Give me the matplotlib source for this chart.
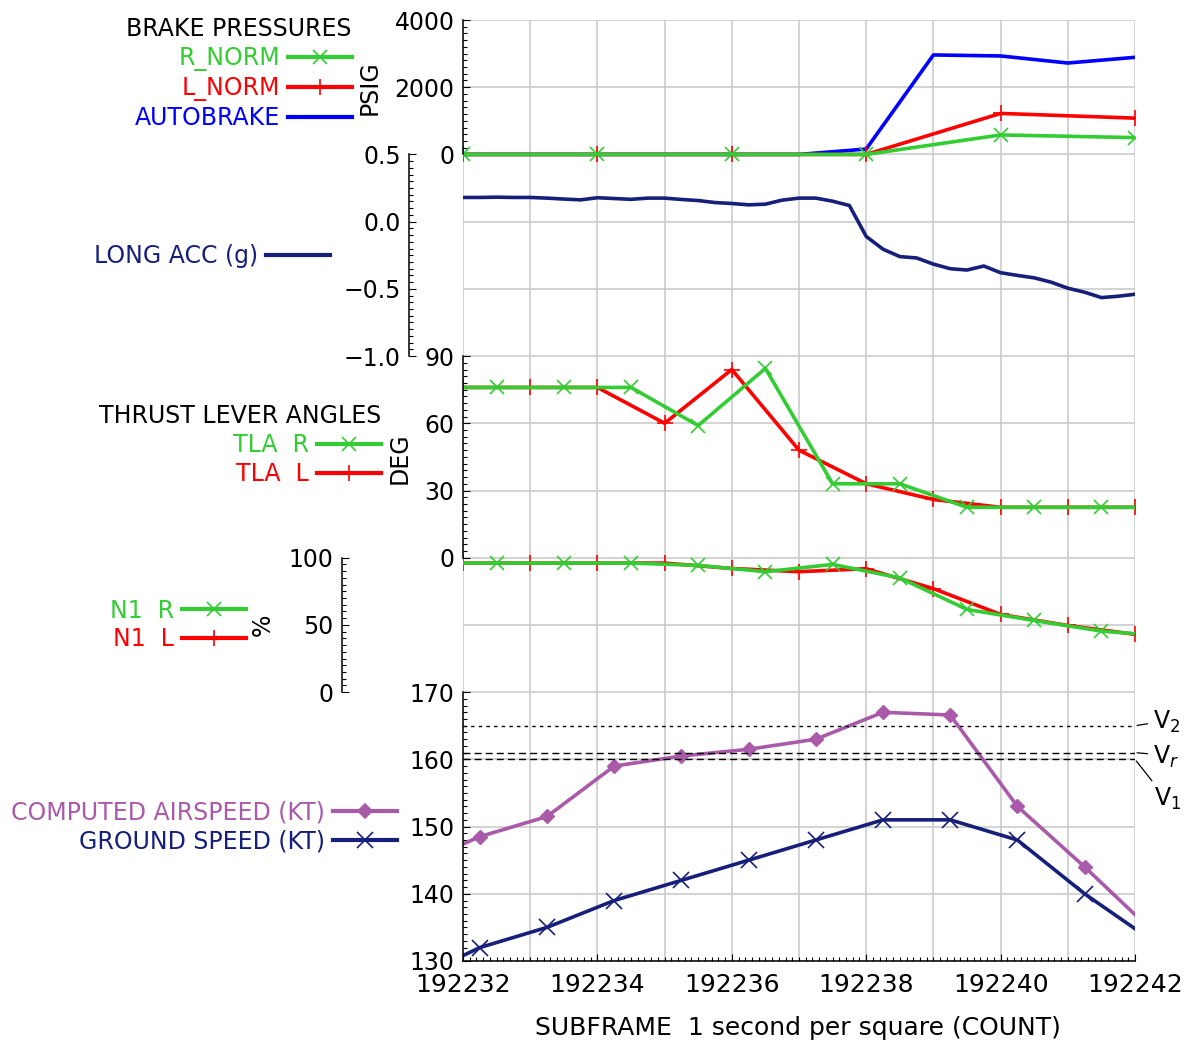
import numpy as np
import matplotlib
matplotlib.use("Agg")
import matplotlib.pyplot as plt
from matplotlib.lines import Line2D
from matplotlib.ticker import FixedLocator, FuncFormatter, MultipleLocator

plt.rcParams['font.family'] = ['DejaVu Sans']
plt.rcParams['font.size'] = 17

# ---- data ----
T0, T1 = 192232, 192242
sec = list(range(192232, 192243))

# brake pressures, psig
brake_t = [192232, 192234, 192236, 192238, 192240, 192242]
r_norm = [0, 0, 0, 0, 580, 500]
l_norm = [0, 0, 0, 0, 1220, 1080]
autobrake = [0, 0, 0, 0, 0, 0, 160, 2960, 2930, 2720, 2890]

# longitudinal acceleration, g (4 samples per second)
acc_t = np.arange(192232, 192242.01, 0.25)
long_acc = [0.18, 0.18, 0.182, 0.18, 0.18, 0.175, 0.168, 0.162,
            0.178, 0.172, 0.166, 0.175, 0.175, 0.165, 0.157, 0.142,
            0.135, 0.125, 0.13, 0.16, 0.175, 0.175, 0.152, 0.12,
            -0.11, -0.205, -0.26, -0.27, -0.316, -0.35, -0.36, -0.33,
            -0.38, -0.40, -0.418, -0.45, -0.495, -0.525, -0.565, -0.555,
            -0.54]

# thrust lever angles, deg
tla_l = [76, 76, 76, 60, 84, 48, 33, 26, 22.5, 22.5, 22.5]
half_t = [192232, 192232.5, 192233.5, 192234.5, 192235.5, 192236.5,
          192237.5, 192238.5, 192239.5, 192240.5, 192241.5, 192242]
tla_r = [76, 76, 76, 76, 59, 84.5, 33, 33, 22.5, 22.5, 22.5, 22.5]

# N1, %
n1_l = [96, 96, 96, 96, 92, 89.6, 91.8, 77, 57.8, 49.6, 43]
n1_r = [96, 96, 96, 96, 94.3, 89.6, 95, 85, 61.5, 53.3, 45.4, 43.5]

# speeds, kt
spd_t = [192232, 192232.25, 192233.25, 192234.25, 192235.25, 192236.25,
         192237.25, 192238.25, 192239.25, 192240.25, 192241.25, 192242]
cas = [147.4, 148.5, 151.5, 159.0, 160.5, 161.5, 163.0, 167.0, 166.6,
       153.0, 144.0, 136.9]
gs = [130.8, 132, 135, 139, 142, 145, 148, 151, 151, 148, 140, 134.8]

v_speeds = [165, 161, 160]
v_labels = [r'V$_2$', r'V$_r$', r'V$_1$']

GREEN = '#33cc33'
RED = '#ff0000'
BLUE = '#0000ff'
NAVY = '#16207a'
PURPLE = '#a95aa9'
LW = 2.6

W, H = 1189, 1043
fig = plt.figure(figsize=(W / 100, H / 100), dpi=100)
rect = [463 / W, 82 / H, 672 / W, 941 / H]
NY = 14  # grid squares vertically


def fx(px):
    return px / W


def fy(py):
    return 1 - py / H


# background grid, one square per second
gax = fig.add_axes(rect, zorder=0)
gax.set_xlim(T0, T1)
gax.set_ylim(0, NY)
gax.set_xticks(sec)
gax.set_yticks(range(NY + 1))
gax.grid(True, color='#cccccc', lw=1.2)
gax.tick_params(length=0, labelbottom=False, labelleft=False)
for s in gax.spines.values():
    s.set_visible(False)


def band(lo, hi, unit, base, major, minor, zorder, spine_px=463, fmt=None, pad=6):
    ax = fig.add_axes(rect, zorder=zorder)
    ax.patch.set_visible(False)
    ax.set_xlim(T0, T1)
    ax.set_ylim(lo - base * unit, lo + (NY - base) * unit)
    for k in ['top', 'right', 'bottom']:
        ax.spines[k].set_visible(False)
    sp = ax.spines['left']
    sp.set_bounds(lo, hi)
    sp.set_linewidth(1.1)
    sp.set_position(('axes', (spine_px - 463) / 672))
    ax.yaxis.set_major_locator(FixedLocator(np.arange(lo, hi + major / 2, major)))
    ax.yaxis.set_minor_locator(FixedLocator(np.arange(lo, hi + minor / 2, minor)))
    if fmt is not None:
        ax.yaxis.set_major_formatter(FuncFormatter(fmt))
    ax.tick_params(axis='y', which='major', direction='in', length=5, width=0.8,
                   pad=pad, labelsize=17)
    ax.tick_params(axis='y', which='minor', direction='in', length=2.6, width=0.8)
    ax.tick_params(axis='x', which='both', bottom=False, labelbottom=False)
    return ax


ax_spd = band(130, 170, 10, 0, 10, 1, 1)
ax_n1 = band(0, 100, 50, 4, 50, 5, 2, spine_px=342)
ax_tla = band(0, 90, 30, 6, 30, 3, 3)
ax_acc = band(-1.0, 0.5, 0.5, 9, 0.5, 0.05, 4, spine_px=409,
              fmt=lambda v, p: f'{v:.1f}'.replace('-', '\u2212'))
ax_psi = band(0, 4000, 2000, 12, 2000, 200, 5, fmt=lambda v, p: f'{v:.0f}')

# bottom time axis
ax_spd.spines['bottom'].set_visible(True)
ax_spd.spines['bottom'].set_linewidth(1.1)
ax_spd.xaxis.set_major_locator(MultipleLocator(2))
ax_spd.xaxis.set_minor_locator(MultipleLocator(0.1))
ax_spd.xaxis.set_major_formatter(FuncFormatter(lambda v, p: f'{v:.0f}'))
ax_spd.tick_params(axis='x', which='major', bottom=True, labelbottom=True,
                   direction='in', length=5, width=0.8, pad=9, labelsize=18)
ax_spd.tick_params(axis='x', which='minor', bottom=True, direction='in',
                   length=2.6, width=0.8)

# ---- series ----
ax_psi.plot(sec, autobrake, color=BLUE, lw=LW)
ax_psi.plot(brake_t, l_norm, color=RED, lw=LW, marker='+', ms=12, mew=1.2)
ax_psi.plot(brake_t, r_norm, color=GREEN, lw=LW, marker='x', ms=10, mew=1.2)

ax_acc.plot(acc_t, long_acc, color=NAVY, lw=LW)

ax_tla.plot(sec, tla_l, color=RED, lw=LW, marker='+', ms=12, mew=1.2)
ax_tla.plot(half_t, tla_r, color=GREEN, lw=LW, marker='x', ms=10, mew=1.2,
            markevery=slice(1, -1))

ax_n1.plot(sec, n1_l, color=RED, lw=LW, marker='+', ms=12, mew=1.2)
ax_n1.plot(half_t, n1_r, color=GREEN, lw=LW, marker='x', ms=10, mew=1.2,
           markevery=slice(1, -1))

ax_spd.plot(spd_t, cas, color=PURPLE, lw=LW, marker='D', ms=7,
            markevery=slice(1, -1))
ax_spd.plot(spd_t, gs, color=NAVY, lw=LW, marker='x', ms=11, mew=1.2,
            markevery=slice(1, -1))

v_dash = [(0, (2.5, 3)), (0, (5, 3)), (0, (5, 3))]
v_off = [(13, 3), (13, -3), (14, -19)]
v_va = ['center', 'center', 'top']
v_rel = [(0, 0.45), (0, 0.6), (0.05, 1)]
for v, lab, ds, off, va, rp in zip(v_speeds, v_labels, v_dash, v_off, v_va, v_rel):
    ax_spd.axhline(v, color='k', lw=1, ls=ds)
    ax_spd.annotate(lab, xy=(T1, v), xytext=off, textcoords='offset points',
                    ha='left', va=va, fontsize=17, annotation_clip=False,
                    arrowprops=dict(arrowstyle='-', color='k', lw=0.9,
                                    shrinkA=2, shrinkB=1.5, relpos=rp))

# ---- legends ----
def proxy(color, marker=None, ms=10):
    return Line2D([], [], color=color, lw=3, marker=marker, ms=ms, mew=1.2)


leg_kw = dict(frameon=False, markerfirst=False, labelcolor='linecolor',
              handlelength=2.7, handletextpad=0.35, borderpad=0,
              borderaxespad=0, numpoints=1, fontsize=17, labelspacing=0.21,
              bbox_transform=fig.transFigure)

fig.legend([proxy(GREEN, 'x'), proxy(RED, '+', 12), proxy(BLUE)],
           ['R_NORM', 'L_NORM', 'AUTOBRAKE'], loc='upper right',
           bbox_to_anchor=(fx(352), fy(17)), title='BRAKE PRESSURES',
           title_fontsize=17, alignment='right', **leg_kw)
fig.legend([proxy(NAVY)], ['LONG ACC (g)'], loc='center right',
           bbox_to_anchor=(fx(330), fy(256)), **leg_kw)
fig.legend([proxy(GREEN, 'x'), proxy(RED, '+', 12)], ['TLA  R', 'TLA  L'],
           loc='upper right', bbox_to_anchor=(fx(381), fy(404)),
           title='THRUST LEVER ANGLES', title_fontsize=17, alignment='right',
           **leg_kw)
fig.legend([proxy(GREEN, 'x'), proxy(RED, '+', 12)], ['N1  R', 'N1  L'],
           loc='center right', bbox_to_anchor=(fx(246), fy(625)), **leg_kw)
fig.legend([proxy(PURPLE, 'D', 7), proxy(NAVY, 'x', 11)],
           ['COMPUTED AIRSPEED (KT)', 'GROUND SPEED (KT)'],
           loc='center right', bbox_to_anchor=(fx(397), fy(827)), **leg_kw)

# axis titles
fig.text(fx(370), fy(88), 'PSIG', rotation=90, ha='center', va='center')
fig.text(fx(400), fy(458), 'DEG', rotation=90, ha='center', va='center')
fig.text(fx(263), fy(625), '%', rotation=90, ha='center', va='center')
fig.text(fx(798), fy(1028), 'SUBFRAME  1 second per square (COUNT)',
         ha='center', va='center', fontsize=18)

fig.savefig('out.png', dpi=100)
